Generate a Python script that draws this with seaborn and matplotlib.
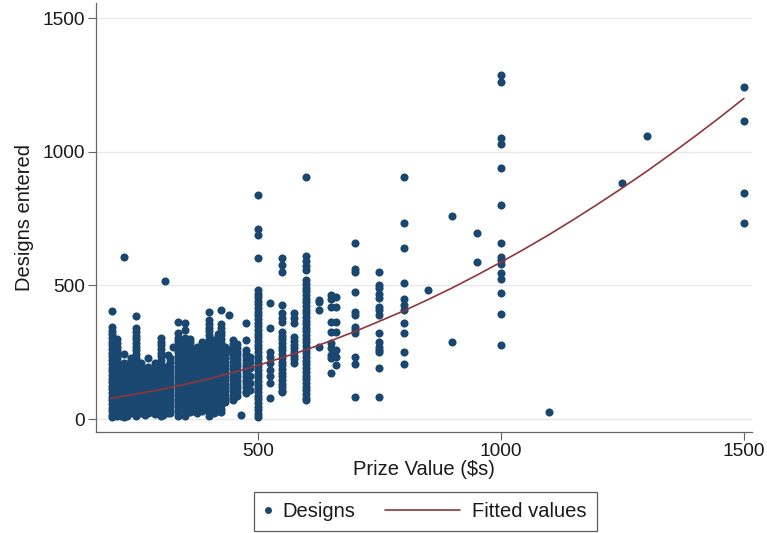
import matplotlib
matplotlib.use("Agg")
import matplotlib.pyplot as plt
import pandas as pd
import seaborn as sns
from matplotlib.legend_handler import HandlerBase
from matplotlib.lines import Line2D

# --- data (prize column -> designs entered) ---
prize_cols = [200, 205, 210, 218, 225, 232, 240, 250, 260, 268, 275, 280, 288, 300, 305,
              310, 315, 320, 325, 335, 345, 350, 360, 368, 375, 385,
              400, 410, 418, 425, 432, 440, 450, 458, 465, 475, 485,
              500, 525, 550, 575, 600, 625, 650, 660, 700, 750, 800, 850, 900, 950,
              1000, 1100, 1250, 1300, 1500]
designs_cols = [
    [404, 344, 330, 318, 305, 290, 276, 262, 248, 235, 220, 207, 193, 180, 166, 152, 139, 125, 111, 98, 84, 70, 57, 43, 30, 16, 7],
    [250, 236, 222, 208, 195, 181, 167, 153, 140, 126, 112, 99, 85, 71, 58, 44, 30, 16],
    [300, 286, 271, 258, 244, 230, 216, 203, 189, 175, 161, 148, 134, 120, 106, 93, 79, 65, 52, 38, 24, 10],
    [188, 174, 160, 147, 133, 119, 106, 92, 78, 64, 51, 37, 23, 10],
    [606, 243, 210, 196, 183, 169, 155, 142, 128, 114, 101, 87, 73, 60, 46, 32, 19, 7],
    [205, 191, 178, 164, 150, 136, 123, 109, 95, 82, 68, 54, 40, 27, 13],
    [230, 216, 202, 189, 175, 161, 147, 134, 120, 106, 93, 79, 65, 51, 38, 24],
    [385, 340, 326, 312, 298, 285, 271, 257, 244, 230, 216, 203, 189, 175, 161, 148, 134, 120, 107, 93, 79, 66, 52, 38, 25, 12],
    [210, 196, 183, 169, 155, 141, 128, 114, 100, 87, 73, 59, 46, 32, 22],
    [180, 166, 152, 139, 125, 111, 98, 84, 70, 56, 43, 29, 15],
    [228, 196, 182, 168, 154, 141, 127, 113, 100, 86, 72, 58, 45, 31, 22],
    [165, 152, 138, 124, 110, 97, 83, 69, 56, 42, 28],
    [210, 196, 182, 169, 155, 141, 128, 114, 100, 86, 73, 59, 45, 31, 18],
    [303, 290, 276, 262, 249, 235, 221, 207, 194, 180, 166, 153, 139, 125, 111, 98, 84, 70, 57, 43, 29, 12],
    [195, 181, 168, 154, 140, 127, 113, 99, 85, 72, 58, 44, 30, 17],
    [516],
    [240, 200, 186, 172, 158, 145, 131, 117, 104, 90, 76, 62, 49, 35, 22],
    [228, 214, 200, 187, 173, 159, 146, 132, 118, 104, 91, 77, 63, 49, 36, 22],
    [269],
    [363, 322, 305, 291, 277, 263, 250, 236, 222, 209, 195, 181, 167, 154, 140, 126, 113, 99, 85, 72, 58, 44, 31, 12],
    [265, 251, 237, 224, 210, 196, 182, 169, 155, 141, 128, 114, 100, 86, 73, 59, 45],
    [359, 333, 305, 291, 277, 264, 250, 236, 222, 209, 195, 181, 168, 154, 140, 126, 113, 99, 85, 72, 58, 44, 30, 12],
    [300, 287, 273, 259, 245, 232, 218, 204, 190, 177, 163, 149, 136, 122, 108, 95, 81, 67, 53, 40, 26],
    [252, 238, 224, 211, 197, 183, 169, 156, 142, 128, 115, 101, 87, 73, 60, 46, 32],
    [270, 255, 240, 226, 212, 198, 185, 171, 157, 143, 130, 116, 102, 89, 75, 61, 47, 34, 22],
    [290, 276, 262, 249, 235, 221, 207, 194, 180, 166, 152, 139, 125, 111, 98, 84, 70, 56, 43, 29],
    [400, 370, 356, 342, 329, 315, 301, 287, 274, 260, 246, 233, 219, 205, 191, 178, 164, 150, 137, 123, 109, 95, 82, 68, 54, 41, 27, 12],
    [296, 282, 268, 255, 241, 227, 213, 200, 186, 172, 159, 145, 131, 117, 104, 90, 76, 63, 49, 35, 22],
    [320, 306, 293, 279, 265, 251, 238, 224, 210, 197, 183, 169, 155, 142, 128, 114, 101, 87, 73, 59, 46, 32],
    [408, 355, 341, 327, 313, 300, 286, 272, 258, 245, 231, 217, 204, 190, 176, 162, 149, 135, 121, 108, 94, 80, 66, 53, 39, 25],
    [270, 242, 229, 215, 201, 188, 174, 160, 146, 133, 119, 105, 92, 78, 64],
    [389, 258],
    [296, 282, 269, 255, 241, 228, 214, 200, 186, 173, 159, 145, 131, 118, 104, 90, 77, 71],
    [280, 266, 252, 239, 225, 211, 197, 184, 170, 156, 143, 129, 115, 101, 88],
    [15],
    [359, 296, 258, 244, 231, 217, 203, 190, 176, 162, 148, 135, 121, 107, 97],
    [232, 215, 190, 160, 135, 108],
    [838, 711, 689, 602, 483, 470, 456, 443, 429, 415, 402, 388, 374, 361, 347, 333, 320, 306, 292, 279, 265, 251, 238, 224, 210, 197, 183, 169, 156, 142, 128, 115, 101, 87, 74, 60, 46, 33, 19, 7],
    [434, 340, 251, 232, 210, 183, 160, 135, 79],
    [602, 576, 550, 426, 396, 380, 363, 326, 312, 298, 284, 270, 257, 243, 229, 215, 202, 188, 174, 160, 147, 133, 119, 106, 101],
    [396, 378, 359, 307, 293, 279, 265, 252, 238, 224, 210],
    [905, 610, 591, 572, 557, 520, 506, 492, 479, 465, 451, 438, 424, 410, 396, 383, 369, 355, 342, 328, 314, 300, 287, 273, 259, 246, 232, 218, 205, 191, 177, 163, 150, 136, 122, 109, 95, 81, 71],
    [445, 438, 408, 269],
    [464, 449, 419, 363, 326, 284, 266, 239, 228, 172],
    [457, 420, 364, 327, 258, 232, 202],
    [660, 560, 551, 476, 401, 389, 345, 333, 323, 233, 208, 83],
    [551, 501, 489, 470, 452, 420, 408, 389, 321, 289, 270, 258, 252, 190, 83],
    [907, 734, 639, 510, 448, 427, 410, 360, 323, 252, 208],
    [485],
    [759, 288],
    [696, 587],
    [1287, 1261, 1051, 1029, 939, 801, 658, 606, 595, 580, 546, 524, 471, 393, 277],
    [26],
    [883],
    [1059],
    [1242, 1115, 845, 733],
]

# fitted (quadratic) values
fit_x = [198, 250, 300, 350, 400, 450, 500, 550, 600, 650, 700, 750, 800, 850, 900, 950,
         1000, 1050, 1100, 1150, 1200, 1250, 1300, 1350, 1400, 1450, 1500]
fit_y = [78, 94, 111, 130, 151, 175, 201, 230, 260, 293, 328, 366, 405, 447, 491, 538,
         587, 638, 691, 747, 805, 865, 927, 992, 1059, 1128, 1200]

y_ticks = [0, 500, 1000, 1500]
x_ticks = [500, 1000, 1500]

# --- long table for seaborn ---
rows = [(x, y) for x, ys in zip(prize_cols, designs_cols) for y in ys]
df = pd.DataFrame(rows, columns=["prize", "designs"])
fit = pd.DataFrame({"prize": fit_x, "fitted": fit_y})

sns.set_theme(style="white")
plt.rcParams["font.family"] = ["Liberation Sans", "DejaVu Sans"]

NAVY = "#1a476f"
MAROON = "#90353b"
TXT = "#1a1a1a"


class DotHandler(HandlerBase):
    # 凡例の点: ハンドル枠の中央に小さな丸
    def create_artists(self, legend, orig_handle, xdescent, ydescent,
                       width, height, fontsize, trans):
        y = height / 2 - ydescent
        ln = Line2D([-xdescent + width / 2], [y], marker="o", ms=4.0,
                    color=NAVY, ls="none")
        ln.set_transform(trans)
        return [ln]


class LongLineHandler(HandlerBase):
    # 凡例の線: 枠の左側へ長く伸ばす（Stata 風）
    def create_artists(self, legend, orig_handle, xdescent, ydescent,
                       width, height, fontsize, trans):
        y = height / 2 - ydescent
        x1 = -xdescent + width
        ln = Line2D([x1 - 54, x1], [y, y], color=MAROON, lw=1.2)
        ln.set_transform(trans)
        return [ln]


fig = plt.figure(figsize=(7.67, 5.33), dpi=100)
ax = fig.add_axes([0.125, 0.189, 0.855, 0.805])

for y in y_ticks:
    ax.axhline(y, color="#e8e8e8", lw=1.0, zorder=0)

sns.scatterplot(data=df, x="prize", y="designs", ax=ax, color=NAVY, s=34,
                linewidth=0, label="Designs", zorder=3)
sns.lineplot(data=fit, x="prize", y="fitted", ax=ax, color=MAROON, lw=1.2,
             label="Fitted values", zorder=4)

ax.set_xlim(167, 1516)
ax.set_ylim(-49, 1556)
ax.set_xticks(x_ticks)
ax.set_yticks(y_ticks)
ax.tick_params(axis="both", which="both", direction="out", length=6, width=0.8,
               color="#666666", labelsize=13.8, labelcolor=TXT, pad=2)
ax.tick_params(axis="x", bottom=True)
ax.tick_params(axis="y", left=True)

for side in ["top", "right"]:
    ax.spines[side].set_visible(False)
for side in ["left", "bottom"]:
    ax.spines[side].set_color("#666666")
    ax.spines[side].set_linewidth(0.9)

ax.set_xlabel("Prize Value ($s)", fontsize=14.5, color=TXT, labelpad=0)
ax.set_ylabel("Designs entered", fontsize=14.5, color=TXT, labelpad=6)

ax.legend_.remove()
h_dot = Line2D([], [], color=NAVY, marker="o", ls="none")
h_line = Line2D([], [], color=MAROON)
leg = fig.legend([h_dot, h_line], ["Designs", "Fitted values"], loc="center",
                 bbox_to_anchor=(0.555, 0.041), ncol=2, frameon=True,
                 fancybox=False, fontsize=14.5, handlelength=0.3,
                 handletextpad=0.6, columnspacing=4.9, borderpad=0.5,
                 borderaxespad=0,
                 handler_map={h_dot: DotHandler(), h_line: LongLineHandler()})
leg.get_frame().set_edgecolor("#333333")
leg.get_frame().set_linewidth(0.9)
for t in leg.get_texts():
    t.set_color(TXT)

fig.savefig("out.png", dpi=100)
